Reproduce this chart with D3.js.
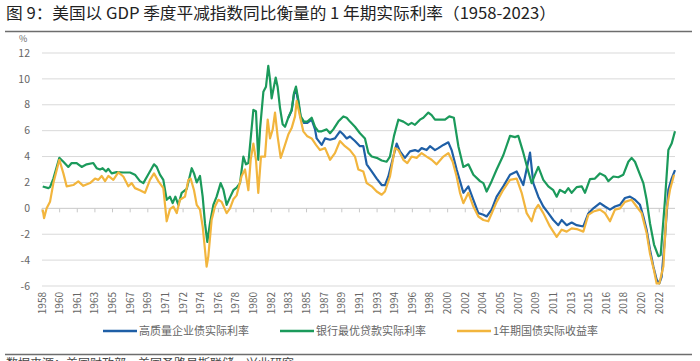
<!DOCTYPE html>
<html><head><meta charset="utf-8">
<script src="https://cdn.jsdelivr.net/npm/d3@7"></script>
<style>
body{margin:0;background:#fff;}
text{font-family:"Noto Sans CJK SC","Noto Sans",sans-serif;}
</style>
</head><body>
<svg id="chart" width="700" height="361"></svg>
<script>
const titleText = "图 9：美国以 GDP 季度平减指数同比衡量的 1 年期实际利率（1958-2023）";
const sourceText = "数据来源：美国财政部，美国圣路易斯联储，兴业研究";
const unitText = "%";
const seriesNames = ["高质量企业债实际利率", "银行最优贷款实际利率", "1年期国债实际收益率"];
const yTickValues = [12, 10, 8, 6, 4, 2, 0, -2, -4, -6];
const xTickLabels = ["1958","1960","1961","1963","1965","1967","1969","1971","1972","1974","1976","1978",
  "1980","1982","1983","1985","1987","1989","1991","1993","1994","1996","1998","2000","2002","2004",
  "2005","2007","2009","2011","2013","2015","2016","2018","2020","2022"];
const xFirstTick = 1958.167;   // March 1958
const xTickStepYears = 22 / 12; // one label every 22 months
const xDomain = [1958.167, 2023.97];

// 银行最优贷款实际利率 (green)
const primeRate = [
[1958.24,1.69],[1958.83,1.56],[1959.0,1.64],[1959.35,2.3],[1959.97,3.9],[1960.39,3.6],[1960.9,3.2],
[1961.25,3.5],[1961.77,3.5],[1962.29,3.2],[1962.81,3.4],[1963.5,3.5],[1963.85,3.1],[1964.2,3.0],
[1964.47,3.1],[1964.82,2.85],[1965.06,3.05],[1965.41,2.7],[1965.93,2.8],[1966.62,2.77],[1967.32,2.77],
[1967.83,2.6],[1968.35,2.1],[1968.7,1.95],[1969.12,2.5],[1969.81,3.4],[1970.09,3.2],[1970.43,2.6],
[1970.78,2.2],[1971.13,0.66],[1971.47,0.9],[1971.75,0.4],[1972.03,0.9],[1972.34,0.27],[1972.69,1.2],
[1973.21,1.5],[1973.73,3.1],[1973.97,2.7],[1974.25,2.0],[1974.59,2.5],[1974.87,0.9],[1975.11,-1.15],
[1975.35,-2.6],[1975.63,-1.15],[1975.98,0.27],[1976.32,0.9],[1976.74,1.95],[1977.02,1.45],[1977.36,0.27],
[1977.71,0.85],[1978.06,1.4],[1978.4,1.6],[1978.75,1.95],[1979.1,4.0],[1979.37,3.4],[1979.62,3.5],
[1980.14,7.6],[1980.41,7.5],[1980.65,3.75],[1980.83,6.1],[1981.18,9.0],[1981.45,9.4],[1981.69,11.0],
[1981.87,9.95],[1982.04,8.5],[1982.46,10.1],[1982.66,9.4],[1982.91,7.75],[1983.18,6.5],[1983.43,6.3],
[1983.77,7.0],[1984.12,7.6],[1984.36,8.9],[1984.57,9.4],[1984.81,8.4],[1985.06,7.1],[1985.4,6.7],
[1985.75,6.7],[1986.2,7.0],[1986.55,6.3],[1986.89,5.95],[1987.24,5.95],[1987.76,6.1],[1988.11,5.8],
[1988.45,6.1],[1988.97,6.7],[1989.49,7.1],[1989.84,7.0],[1990.18,6.7],[1990.7,6.3],[1991.22,5.8],
[1991.74,5.4],[1992.09,4.3],[1992.44,4.0],[1992.96,3.9],[1993.48,3.7],[1993.99,3.6],[1994.34,4.0],
[1994.76,5.6],[1995.21,6.85],[1995.73,6.7],[1996.25,6.45],[1996.59,6.6],[1996.94,6.45],[1997.46,6.85],
[1997.81,7.0],[1998.33,7.4],[1998.67,7.2],[1999.02,6.85],[1999.54,6.85],[2000.06,6.85],[2000.51,7.1],
[2000.98,7.0],[2001.45,4.8],[2001.97,3.2],[2002.49,3.4],[2003.01,2.6],[2003.7,2.1],[2004.05,1.95],
[2004.39,1.3],[2004.91,2.1],[2005.43,3.0],[2006.12,4.1],[2006.82,5.6],[2007.34,5.5],[2007.68,5.6],
[2008.2,4.3],[2008.72,2.85],[2009.07,1.95],[2009.42,2.6],[2009.76,3.2],[2010.28,2.2],[2010.8,1.7],
[2011.32,1.4],[2011.67,0.9],[2012.01,1.43],[2012.53,1.2],[2012.88,1.56],[2013.23,1.2],[2013.75,1.64],
[2014.27,1.7],[2014.61,1.2],[2015.13,2.26],[2015.65,2.3],[2016.17,2.7],[2016.69,2.5],[2017.04,2.1],
[2017.56,2.46],[2018.08,2.4],[2018.6,2.6],[2019.12,3.6],[2019.46,3.9],[2019.81,3.6],[2020.33,2.6],
[2020.68,1.95],[2021.02,0.66],[2021.37,-1.15],[2021.79,-2.8],[2022.24,-3.7],[2022.48,-3.6],[2022.93,0.66],
[2023.28,4.5],[2023.62,5.0],[2023.97,5.95]
];

// 1年期国债实际收益率 (yellow)
const treasury1y = [
[1958.24,-0.1],[1958.38,-0.76],[1958.65,0.0],[1959.0,0.5],[1959.35,1.95],[1959.97,3.75],[1960.39,2.7],
[1960.73,1.7],[1961.42,1.8],[1961.94,2.08],[1962.46,1.74],[1963.16,1.95],[1963.68,2.3],[1964.02,2.2],
[1964.37,2.5],[1964.72,2.1],[1965.06,2.5],[1965.58,2.2],[1966.1,2.77],[1966.62,2.46],[1967.14,1.7],
[1967.49,1.95],[1967.83,1.56],[1968.35,1.4],[1968.87,1.2],[1969.39,2.2],[1969.81,2.7],[1970.26,2.1],
[1970.78,1.56],[1971.13,-1.0],[1971.47,-0.06],[1971.82,0.14],[1972.17,-0.37],[1972.51,0.66],[1973.03,0.9],
[1973.38,2.2],[1973.62,2.3],[1973.97,1.4],[1974.25,0.27],[1974.59,-0.1],[1974.87,-1.4],[1975.11,-3.2],
[1975.28,-4.5],[1975.46,-3.7],[1975.8,-0.9],[1976.15,0.14],[1976.5,0.66],[1976.84,0.5],[1977.36,-0.37],
[1977.71,0.0],[1978.06,0.7],[1978.4,1.0],[1978.92,2.5],[1979.27,3.0],[1979.62,1.4],[1979.86,3.75],
[1980.14,5.0],[1980.41,3.75],[1980.65,1.2],[1980.93,4.0],[1981.35,4.0],[1981.63,6.85],[1981.87,5.4],
[1982.15,6.1],[1982.39,7.4],[1982.66,5.56],[1982.98,3.9],[1983.32,4.65],[1983.77,5.7],[1984.12,6.2],
[1984.47,7.1],[1984.64,8.3],[1984.99,7.1],[1985.33,5.95],[1985.75,5.56],[1986.2,5.4],[1986.65,4.9],
[1987.07,4.5],[1987.59,4.65],[1988.11,3.75],[1988.62,4.27],[1989.14,5.2],[1989.66,4.8],[1990.18,4.5],
[1990.7,4.0],[1991.05,3.0],[1991.57,2.85],[1991.92,1.95],[1992.44,1.7],[1992.96,1.3],[1993.48,1.05],
[1993.82,1.3],[1994.34,2.46],[1994.86,4.65],[1995.21,4.5],[1995.73,3.75],[1996.14,3.5],[1996.59,4.0],
[1997.11,3.9],[1997.63,4.27],[1998.15,4.0],[1998.67,3.75],[1999.19,3.4],[1999.89,4.0],[2000.41,4.27],
[2000.86,3.6],[2001.27,2.46],[2001.62,1.2],[2001.97,0.4],[2002.49,1.2],[2003.01,0.14],[2003.53,-0.63],
[2004.05,-0.9],[2004.56,-1.0],[2004.91,-0.4],[2005.43,0.5],[2006.12,1.43],[2006.82,2.2],[2007.51,2.3],
[2008.03,1.2],[2008.55,-0.37],[2009.07,-1.0],[2009.42,-0.1],[2009.76,0.27],[2010.28,-0.37],[2010.97,-1.4],
[2011.67,-2.2],[2012.19,-1.65],[2012.71,-1.8],[2013.23,-1.55],[2013.75,-1.6],[2014.44,-1.8],[2014.96,-0.5],
[2015.48,-0.25],[2016.17,-0.1],[2016.69,-0.37],[2017.21,-1.0],[2017.73,-0.1],[2018.25,0.0],[2018.77,0.5],
[2019.46,0.66],[2019.98,0.14],[2020.5,-0.37],[2021.02,-1.9],[2021.37,-3.5],[2021.79,-4.8],[2022.06,-5.8],
[2022.34,-5.8],[2022.76,-4.5],[2023.1,-0.1],[2023.45,1.43],[2023.87,2.6]
];

// 高质量企业债实际利率 (blue)
const corpBond = [
[1983.77,7.0],[1984.12,7.55],[1984.36,8.8],[1984.57,9.2],[1984.81,8.2],[1985.06,7.0],[1985.4,6.6],
[1985.75,6.6],[1986.2,6.85],[1986.55,6.1],[1986.72,5.4],[1987.24,4.9],[1987.59,5.4],[1988.11,5.3],
[1988.62,5.4],[1989.14,5.95],[1989.49,5.7],[1989.84,5.4],[1990.18,5.55],[1990.7,5.2],[1991.22,4.8],
[1991.57,4.8],[1991.92,3.4],[1992.44,2.85],[1992.96,2.3],[1993.48,1.8],[1993.82,1.8],[1994.17,2.46],
[1994.69,4.0],[1995.04,5.0],[1995.38,4.4],[1995.9,3.9],[1996.42,4.4],[1996.94,4.5],[1997.29,4.4],
[1997.63,4.65],[1998.15,4.5],[1998.5,4.8],[1999.02,4.5],[1999.37,4.65],[1999.89,4.9],[2000.41,5.1],
[2000.75,4.5],[2001.27,3.0],[2001.62,2.1],[2001.97,1.2],[2002.49,1.7],[2003.01,0.66],[2003.53,-0.37],
[2004.05,-0.5],[2004.39,-0.63],[2004.91,-0.1],[2005.43,0.9],[2006.12,1.7],[2006.82,2.6],[2007.51,2.85],
[2008.2,1.8],[2008.9,4.3],[2009.24,1.95],[2009.76,0.9],[2010.28,0.14],[2010.8,-0.37],[2011.32,-0.9],
[2011.84,-1.3],[2012.19,-0.9],[2012.71,-1.3],[2013.23,-1.1],[2013.75,-1.3],[2014.44,-1.4],[2014.96,-0.4],
[2015.48,0.0],[2016.17,0.4],[2016.69,0.14],[2017.21,-0.1],[2017.73,0.14],[2018.25,0.27],[2018.77,0.8],
[2019.29,0.9],[2019.81,0.66],[2020.33,0.27],[2020.68,-0.63],[2021.02,-1.65],[2021.37,-3.2],[2021.72,-4.5],
[2022.06,-5.5],[2022.34,-5.8],[2022.58,-5.3],[2022.93,-2.2],[2023.28,1.43],[2023.62,2.3],[2023.97,2.95]
];

const seriesData = [corpBond, primeRate, treasury1y];
const seriesColors = ["#1f5fa6", "#1b9a5b", "#f2b53d"];

const svg = d3.select("#chart");
const x = d3.scaleLinear().domain(xDomain).range([42, 675]);
const y = d3.scaleLinear().domain([-6, 12]).range([286, 53]);

// title
svg.append("text").attr("x", 6).attr("y", 19).attr("font-size", 16).attr("fill", "#222")
  .attr("textLength", 550).attr("lengthAdjust", "spacingAndGlyphs").text(titleText);
svg.append("line").attr("x1", 5).attr("x2", 692).attr("y1", 31.5).attr("y2", 31.5)
  .attr("stroke", "#6d6d6d").attr("stroke-width", 1.5);

// unit
svg.append("text").attr("x", 19).attr("y", 42).attr("font-size", 9).attr("fill", "#666").text(unitText);

// grid
svg.append("g").selectAll("line").data(yTickValues.filter(v => v !== 0)).join("line")
  .attr("x1", 42).attr("x2", 675).attr("y1", d => y(d)).attr("y2", d => y(d))
  .attr("stroke", "#d9d9d9").attr("stroke-width", 1);

// y labels
svg.append("g").selectAll("text").data(yTickValues).join("text")
  .attr("x", 30).attr("y", d => y(d)).attr("dy", "0.35em").attr("text-anchor", "end")
  .attr("font-size", 10.5).attr("fill", "#666").text(d => d);

// zero axis with ticks
const tickYears = xTickLabels.map((_, i) => xFirstTick + i * xTickStepYears);
svg.append("line").attr("x1", 42).attr("x2", 675).attr("y1", y(0)).attr("y2", y(0))
  .attr("stroke", "#c8c8c8").attr("stroke-width", 1);
svg.append("g").selectAll("line").data(tickYears).join("line")
  .attr("x1", d => x(d)).attr("x2", d => x(d)).attr("y1", y(0)).attr("y2", y(0) + 4)
  .attr("stroke", "#c8c8c8");

// x labels (rotated)
svg.append("g").selectAll("text").data(xTickLabels).join("text")
  .attr("transform", (d, i) => `translate(${x(tickYears[i])},292) rotate(-90)`)
  .attr("text-anchor", "end").attr("dy", "0.35em").attr("font-size", 10).attr("fill", "#666")
  .text(d => d);

// lines
const line = d3.line().x(d => x(d[0])).y(d => y(d[1])).curve(d3.curveLinear);
seriesData.forEach((s, i) => {
  svg.append("path").datum(s).attr("d", line).attr("fill", "none")
    .attr("stroke", seriesColors[i]).attr("stroke-width", 2.2).attr("stroke-linejoin", "round");
});

// legend
const legendX = [103, 280, 457];
seriesNames.forEach((n, i) => {
  svg.append("line").attr("x1", legendX[i]).attr("x2", legendX[i] + 34).attr("y1", 331).attr("y2", 331)
    .attr("stroke", seriesColors[i]).attr("stroke-width", 2.5);
  svg.append("text").attr("x", legendX[i] + 36).attr("y", 331).attr("dy", "0.35em")
    .attr("font-size", 11).attr("fill", "#666").text(n);
});

// footer
svg.append("line").attr("x1", 5).attr("x2", 692).attr("y1", 354.5).attr("y2", 354.5)
  .attr("stroke", "#6d6d6d").attr("stroke-width", 1.5);
svg.append("text").attr("x", 6).attr("y", 368).attr("font-size", 12).attr("fill", "#444").text(sourceText);
</script>
</body></html>
